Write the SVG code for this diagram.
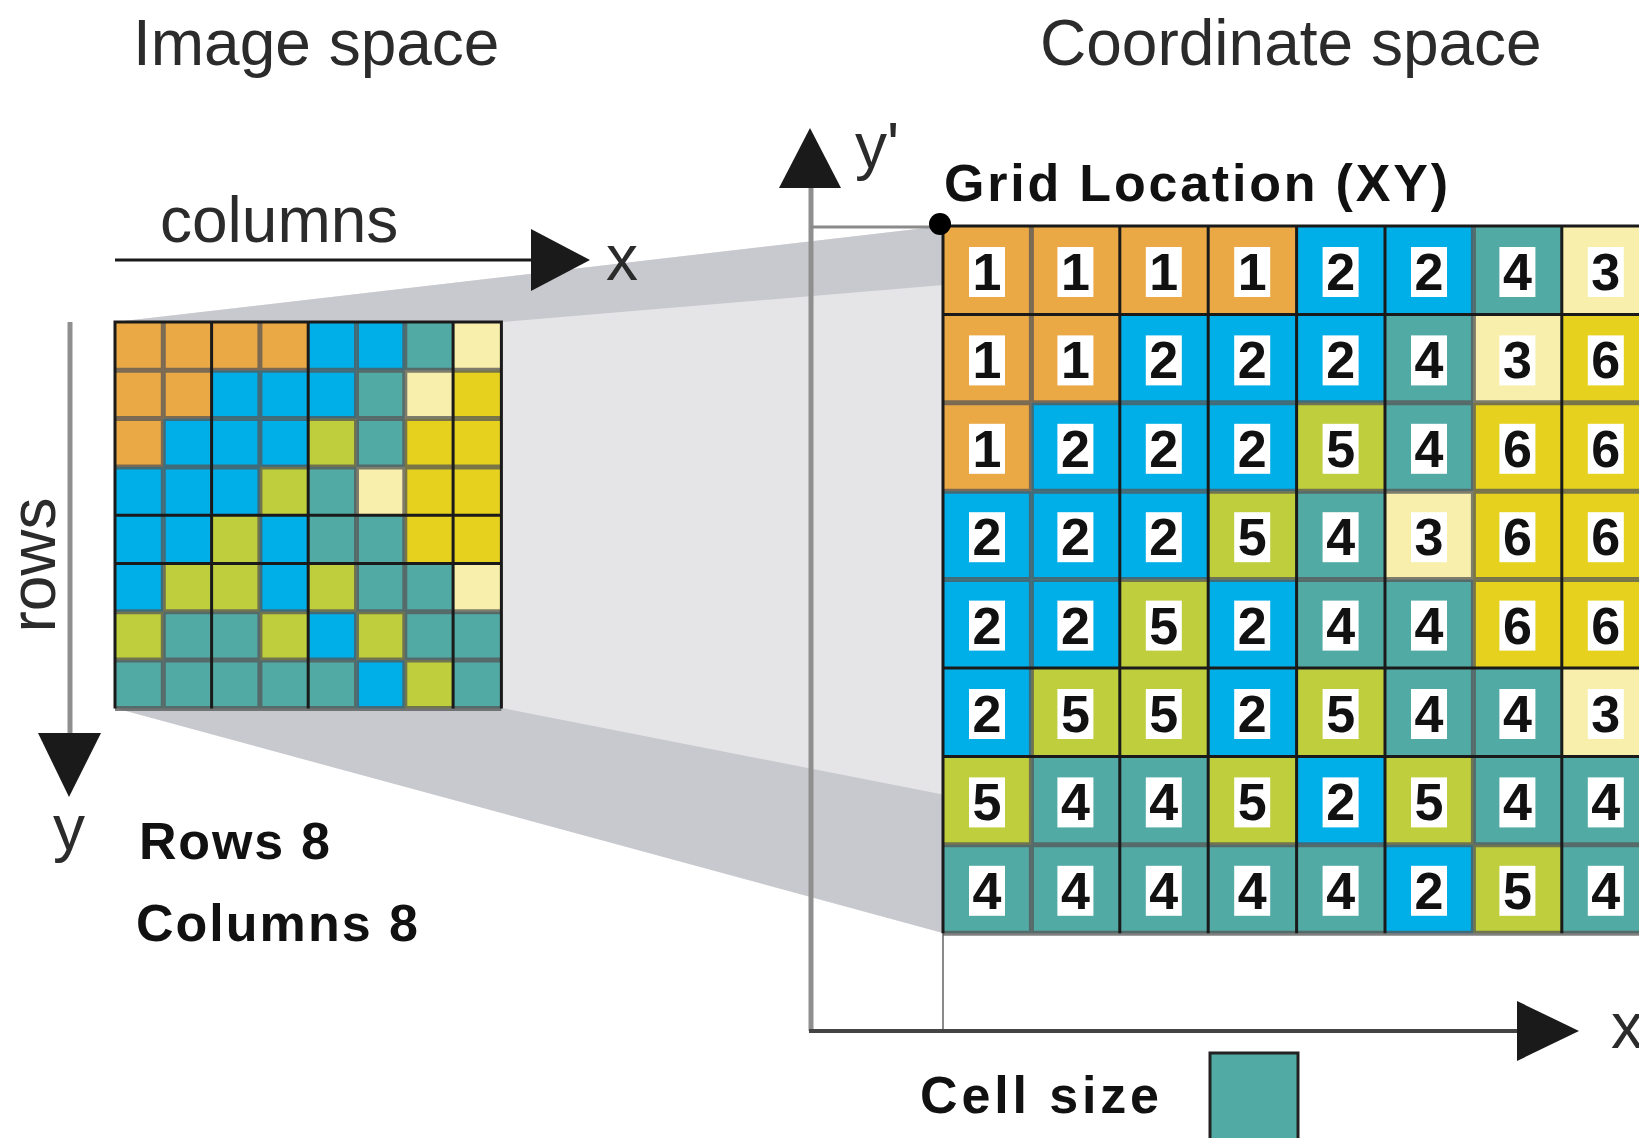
<svg xmlns="http://www.w3.org/2000/svg" width="1639" height="1138" viewBox="0 0 1639 1138">
<style>
.c1{fill:#EAA945}.c2{fill:#00AEE8}.c3{fill:#F7EFAB}.c4{fill:#52AAA5}.c5{fill:#BECE3C}.c6{fill:#E6D21E}
.bx{fill:#FFFFFF}
.dg{font-family:"Liberation Sans",Arial,sans-serif;font-weight:bold;font-size:52px;fill:#111;text-anchor:middle}
.title{font-family:"Liberation Sans",Arial,sans-serif;font-size:64px;fill:#2b2b2b}
.bold{font-family:"Liberation Sans",Arial,sans-serif;font-weight:bold;font-size:52px;fill:#111}
.gl{stroke:#1a1a1a;stroke-width:3;fill:none}
.gg{stroke:#555;stroke-opacity:0.75;stroke-width:5;fill:none}
.ax{fill:#1a1a1a}
</style>

<g id="projection">
<polygon points="115,322 943,226 943,933 115,708" fill="#E5E5E7"/>
<polygon points="115,322 502,322 1649,226 943,226" fill="#C8C9CE"/>
<polygon points="115,708 502,708 1649,933 943,933" fill="#C8C9CE"/>
</g>

<g id="image-grid">
<g transform="translate(0,322)">
<rect class="c1" x="115" y="0" width="48.4" height="48.4"/><rect class="c1" x="163.3" y="0" width="48.4" height="48.4"/><rect class="c1" x="211.6" y="0" width="48.4" height="48.4"/><rect class="c1" x="259.9" y="0" width="48.4" height="48.4"/><rect class="c2" x="308.2" y="0" width="48.4" height="48.4"/><rect class="c2" x="356.5" y="0" width="48.4" height="48.4"/><rect class="c4" x="404.8" y="0" width="48.4" height="48.4"/><rect class="c3" x="453.1" y="0" width="48.4" height="48.4"/>
</g>
<g transform="translate(0,370.3)">
<rect class="c1" x="115" y="0" width="48.4" height="48.4"/><rect class="c1" x="163.3" y="0" width="48.4" height="48.4"/><rect class="c2" x="211.6" y="0" width="48.4" height="48.4"/><rect class="c2" x="259.9" y="0" width="48.4" height="48.4"/><rect class="c2" x="308.2" y="0" width="48.4" height="48.4"/><rect class="c4" x="356.5" y="0" width="48.4" height="48.4"/><rect class="c3" x="404.8" y="0" width="48.4" height="48.4"/><rect class="c6" x="453.1" y="0" width="48.4" height="48.4"/>
</g>
<g transform="translate(0,418.6)">
<rect class="c1" x="115" y="0" width="48.4" height="48.4"/><rect class="c2" x="163.3" y="0" width="48.4" height="48.4"/><rect class="c2" x="211.6" y="0" width="48.4" height="48.4"/><rect class="c2" x="259.9" y="0" width="48.4" height="48.4"/><rect class="c5" x="308.2" y="0" width="48.4" height="48.4"/><rect class="c4" x="356.5" y="0" width="48.4" height="48.4"/><rect class="c6" x="404.8" y="0" width="48.4" height="48.4"/><rect class="c6" x="453.1" y="0" width="48.4" height="48.4"/>
</g>
<g transform="translate(0,466.9)">
<rect class="c2" x="115" y="0" width="48.4" height="48.4"/><rect class="c2" x="163.3" y="0" width="48.4" height="48.4"/><rect class="c2" x="211.6" y="0" width="48.4" height="48.4"/><rect class="c5" x="259.9" y="0" width="48.4" height="48.4"/><rect class="c4" x="308.2" y="0" width="48.4" height="48.4"/><rect class="c3" x="356.5" y="0" width="48.4" height="48.4"/><rect class="c6" x="404.8" y="0" width="48.4" height="48.4"/><rect class="c6" x="453.1" y="0" width="48.4" height="48.4"/>
</g>
<g transform="translate(0,515.2)">
<rect class="c2" x="115" y="0" width="48.4" height="48.4"/><rect class="c2" x="163.3" y="0" width="48.4" height="48.4"/><rect class="c5" x="211.6" y="0" width="48.4" height="48.4"/><rect class="c2" x="259.9" y="0" width="48.4" height="48.4"/><rect class="c4" x="308.2" y="0" width="48.4" height="48.4"/><rect class="c4" x="356.5" y="0" width="48.4" height="48.4"/><rect class="c6" x="404.8" y="0" width="48.4" height="48.4"/><rect class="c6" x="453.1" y="0" width="48.4" height="48.4"/>
</g>
<g transform="translate(0,563.5)">
<rect class="c2" x="115" y="0" width="48.4" height="48.4"/><rect class="c5" x="163.3" y="0" width="48.4" height="48.4"/><rect class="c5" x="211.6" y="0" width="48.4" height="48.4"/><rect class="c2" x="259.9" y="0" width="48.4" height="48.4"/><rect class="c5" x="308.2" y="0" width="48.4" height="48.4"/><rect class="c4" x="356.5" y="0" width="48.4" height="48.4"/><rect class="c4" x="404.8" y="0" width="48.4" height="48.4"/><rect class="c3" x="453.1" y="0" width="48.4" height="48.4"/>
</g>
<g transform="translate(0,611.8)">
<rect class="c5" x="115" y="0" width="48.4" height="48.4"/><rect class="c4" x="163.3" y="0" width="48.4" height="48.4"/><rect class="c4" x="211.6" y="0" width="48.4" height="48.4"/><rect class="c5" x="259.9" y="0" width="48.4" height="48.4"/><rect class="c2" x="308.2" y="0" width="48.4" height="48.4"/><rect class="c5" x="356.5" y="0" width="48.4" height="48.4"/><rect class="c4" x="404.8" y="0" width="48.4" height="48.4"/><rect class="c4" x="453.1" y="0" width="48.4" height="48.4"/>
</g>
<g transform="translate(0,660.1)">
<rect class="c4" x="115" y="0" width="48.4" height="48.3"/><rect class="c4" x="163.3" y="0" width="48.4" height="48.3"/><rect class="c4" x="211.6" y="0" width="48.4" height="48.3"/><rect class="c4" x="259.9" y="0" width="48.4" height="48.3"/><rect class="c4" x="308.2" y="0" width="48.4" height="48.3"/><rect class="c2" x="356.5" y="0" width="48.4" height="48.3"/><rect class="c5" x="404.8" y="0" width="48.4" height="48.3"/><rect class="c4" x="453.1" y="0" width="48.3" height="48.3"/>
</g>
<path class="gg" d="M163.3,322V708.4M259.9,322V708.4M356.5,322V708.4M404.8,322V708.4M115,370.3H501.4M115,418.6H501.4M115,466.9H501.4M115,611.8H501.4M115,660.1H501.4M115,708.4H501.4"/>
<path class="gl" d="M211.6,322V708.4M308.2,322V708.4M453.1,322V708.4M115,515.2H501.4M115,563.5H501.4M115,708.4V322H501.4V708.4"/>
</g>

<g id="connectors">
<line x1="811" y1="188" x2="811" y2="1031" stroke="#8f8f8f" stroke-width="5"/>
<line x1="811" y1="227" x2="940" y2="227" stroke="#8a8a8a" stroke-width="3"/>
<line x1="943" y1="933" x2="943" y2="1031" stroke="#8a8a8a" stroke-width="2"/>
<line x1="70" y1="322" x2="70" y2="740" stroke="#8f8f8f" stroke-width="5"/>
<polygon class="ax" points="38,733 101,733 69,797"/>
<line x1="115" y1="260" x2="533" y2="260" stroke="#1a1a1a" stroke-width="3"/>
<polygon class="ax" points="531,229 531,291 590,260"/>
<polygon class="ax" points="779,188 841,188 810,128"/>
<line x1="809" y1="1031" x2="1520" y2="1031" stroke="#444" stroke-width="4"/>
<polygon class="ax" points="1517,1001 1517,1061 1579,1031"/>
</g>

<g id="coord-grid">
<g transform="translate(0,226)">
<rect class="c1" x="943" y="0" width="88.5" height="88.5"/><rect class="c1" x="1031.4" y="0" width="88.5" height="88.5"/><rect class="c1" x="1119.8" y="0" width="88.5" height="88.5"/><rect class="c1" x="1208.2" y="0" width="88.5" height="88.5"/><rect class="c2" x="1296.6" y="0" width="88.5" height="88.5"/><rect class="c2" x="1385" y="0" width="88.5" height="88.5"/><rect class="c4" x="1473.4" y="0" width="88.5" height="88.5"/><rect class="c3" x="1561.8" y="0" width="88.5" height="88.5"/>
<rect class="bx" x="969" y="21" width="36" height="50"/><rect class="bx" x="1057.4" y="21" width="36" height="50"/><rect class="bx" x="1145.8" y="21" width="36" height="50"/><rect class="bx" x="1234.2" y="21" width="36" height="50"/><rect class="bx" x="1322.6" y="21" width="36" height="50"/><rect class="bx" x="1411" y="21" width="36" height="50"/><rect class="bx" x="1499.4" y="21" width="36" height="50"/><rect class="bx" x="1587.8" y="21" width="36" height="50"/>
<text class="dg" x="987" y="64">1</text><text class="dg" x="1075.4" y="64">1</text><text class="dg" x="1163.8" y="64">1</text><text class="dg" x="1252.2" y="64">1</text><text class="dg" x="1340.6" y="64">2</text><text class="dg" x="1429" y="64">2</text><text class="dg" x="1517.4" y="64">4</text><text class="dg" x="1605.8" y="64">3</text>
</g>
<g transform="translate(0,314.4)">
<rect class="c1" x="943" y="0" width="88.5" height="88.5"/><rect class="c1" x="1031.4" y="0" width="88.5" height="88.5"/><rect class="c2" x="1119.8" y="0" width="88.5" height="88.5"/><rect class="c2" x="1208.2" y="0" width="88.5" height="88.5"/><rect class="c2" x="1296.6" y="0" width="88.5" height="88.5"/><rect class="c4" x="1385" y="0" width="88.5" height="88.5"/><rect class="c3" x="1473.4" y="0" width="88.5" height="88.5"/><rect class="c6" x="1561.8" y="0" width="88.5" height="88.5"/>
<rect class="bx" x="969" y="21" width="36" height="50"/><rect class="bx" x="1057.4" y="21" width="36" height="50"/><rect class="bx" x="1145.8" y="21" width="36" height="50"/><rect class="bx" x="1234.2" y="21" width="36" height="50"/><rect class="bx" x="1322.6" y="21" width="36" height="50"/><rect class="bx" x="1411" y="21" width="36" height="50"/><rect class="bx" x="1499.4" y="21" width="36" height="50"/><rect class="bx" x="1587.8" y="21" width="36" height="50"/>
<text class="dg" x="987" y="64">1</text><text class="dg" x="1075.4" y="64">1</text><text class="dg" x="1163.8" y="64">2</text><text class="dg" x="1252.2" y="64">2</text><text class="dg" x="1340.6" y="64">2</text><text class="dg" x="1429" y="64">4</text><text class="dg" x="1517.4" y="64">3</text><text class="dg" x="1605.8" y="64">6</text>
</g>
<g transform="translate(0,402.8)">
<rect class="c1" x="943" y="0" width="88.5" height="88.5"/><rect class="c2" x="1031.4" y="0" width="88.5" height="88.5"/><rect class="c2" x="1119.8" y="0" width="88.5" height="88.5"/><rect class="c2" x="1208.2" y="0" width="88.5" height="88.5"/><rect class="c5" x="1296.6" y="0" width="88.5" height="88.5"/><rect class="c4" x="1385" y="0" width="88.5" height="88.5"/><rect class="c6" x="1473.4" y="0" width="88.5" height="88.5"/><rect class="c6" x="1561.8" y="0" width="88.5" height="88.5"/>
<rect class="bx" x="969" y="21" width="36" height="50"/><rect class="bx" x="1057.4" y="21" width="36" height="50"/><rect class="bx" x="1145.8" y="21" width="36" height="50"/><rect class="bx" x="1234.2" y="21" width="36" height="50"/><rect class="bx" x="1322.6" y="21" width="36" height="50"/><rect class="bx" x="1411" y="21" width="36" height="50"/><rect class="bx" x="1499.4" y="21" width="36" height="50"/><rect class="bx" x="1587.8" y="21" width="36" height="50"/>
<text class="dg" x="987" y="64">1</text><text class="dg" x="1075.4" y="64">2</text><text class="dg" x="1163.8" y="64">2</text><text class="dg" x="1252.2" y="64">2</text><text class="dg" x="1340.6" y="64">5</text><text class="dg" x="1429" y="64">4</text><text class="dg" x="1517.4" y="64">6</text><text class="dg" x="1605.8" y="64">6</text>
</g>
<g transform="translate(0,491.2)">
<rect class="c2" x="943" y="0" width="88.5" height="88.5"/><rect class="c2" x="1031.4" y="0" width="88.5" height="88.5"/><rect class="c2" x="1119.8" y="0" width="88.5" height="88.5"/><rect class="c5" x="1208.2" y="0" width="88.5" height="88.5"/><rect class="c4" x="1296.6" y="0" width="88.5" height="88.5"/><rect class="c3" x="1385" y="0" width="88.5" height="88.5"/><rect class="c6" x="1473.4" y="0" width="88.5" height="88.5"/><rect class="c6" x="1561.8" y="0" width="88.5" height="88.5"/>
<rect class="bx" x="969" y="21" width="36" height="50"/><rect class="bx" x="1057.4" y="21" width="36" height="50"/><rect class="bx" x="1145.8" y="21" width="36" height="50"/><rect class="bx" x="1234.2" y="21" width="36" height="50"/><rect class="bx" x="1322.6" y="21" width="36" height="50"/><rect class="bx" x="1411" y="21" width="36" height="50"/><rect class="bx" x="1499.4" y="21" width="36" height="50"/><rect class="bx" x="1587.8" y="21" width="36" height="50"/>
<text class="dg" x="987" y="64">2</text><text class="dg" x="1075.4" y="64">2</text><text class="dg" x="1163.8" y="64">2</text><text class="dg" x="1252.2" y="64">5</text><text class="dg" x="1340.6" y="64">4</text><text class="dg" x="1429" y="64">3</text><text class="dg" x="1517.4" y="64">6</text><text class="dg" x="1605.8" y="64">6</text>
</g>
<g transform="translate(0,579.6)">
<rect class="c2" x="943" y="0" width="88.5" height="88.5"/><rect class="c2" x="1031.4" y="0" width="88.5" height="88.5"/><rect class="c5" x="1119.8" y="0" width="88.5" height="88.5"/><rect class="c2" x="1208.2" y="0" width="88.5" height="88.5"/><rect class="c4" x="1296.6" y="0" width="88.5" height="88.5"/><rect class="c4" x="1385" y="0" width="88.5" height="88.5"/><rect class="c6" x="1473.4" y="0" width="88.5" height="88.5"/><rect class="c6" x="1561.8" y="0" width="88.5" height="88.5"/>
<rect class="bx" x="969" y="21" width="36" height="50"/><rect class="bx" x="1057.4" y="21" width="36" height="50"/><rect class="bx" x="1145.8" y="21" width="36" height="50"/><rect class="bx" x="1234.2" y="21" width="36" height="50"/><rect class="bx" x="1322.6" y="21" width="36" height="50"/><rect class="bx" x="1411" y="21" width="36" height="50"/><rect class="bx" x="1499.4" y="21" width="36" height="50"/><rect class="bx" x="1587.8" y="21" width="36" height="50"/>
<text class="dg" x="987" y="64">2</text><text class="dg" x="1075.4" y="64">2</text><text class="dg" x="1163.8" y="64">5</text><text class="dg" x="1252.2" y="64">2</text><text class="dg" x="1340.6" y="64">4</text><text class="dg" x="1429" y="64">4</text><text class="dg" x="1517.4" y="64">6</text><text class="dg" x="1605.8" y="64">6</text>
</g>
<g transform="translate(0,668)">
<rect class="c2" x="943" y="0" width="88.5" height="88.5"/><rect class="c5" x="1031.4" y="0" width="88.5" height="88.5"/><rect class="c5" x="1119.8" y="0" width="88.5" height="88.5"/><rect class="c2" x="1208.2" y="0" width="88.5" height="88.5"/><rect class="c5" x="1296.6" y="0" width="88.5" height="88.5"/><rect class="c4" x="1385" y="0" width="88.5" height="88.5"/><rect class="c4" x="1473.4" y="0" width="88.5" height="88.5"/><rect class="c3" x="1561.8" y="0" width="88.5" height="88.5"/>
<rect class="bx" x="969" y="21" width="36" height="50"/><rect class="bx" x="1057.4" y="21" width="36" height="50"/><rect class="bx" x="1145.8" y="21" width="36" height="50"/><rect class="bx" x="1234.2" y="21" width="36" height="50"/><rect class="bx" x="1322.6" y="21" width="36" height="50"/><rect class="bx" x="1411" y="21" width="36" height="50"/><rect class="bx" x="1499.4" y="21" width="36" height="50"/><rect class="bx" x="1587.8" y="21" width="36" height="50"/>
<text class="dg" x="987" y="64">2</text><text class="dg" x="1075.4" y="64">5</text><text class="dg" x="1163.8" y="64">5</text><text class="dg" x="1252.2" y="64">2</text><text class="dg" x="1340.6" y="64">5</text><text class="dg" x="1429" y="64">4</text><text class="dg" x="1517.4" y="64">4</text><text class="dg" x="1605.8" y="64">3</text>
</g>
<g transform="translate(0,756.4)">
<rect class="c5" x="943" y="0" width="88.5" height="88.5"/><rect class="c4" x="1031.4" y="0" width="88.5" height="88.5"/><rect class="c4" x="1119.8" y="0" width="88.5" height="88.5"/><rect class="c5" x="1208.2" y="0" width="88.5" height="88.5"/><rect class="c2" x="1296.6" y="0" width="88.5" height="88.5"/><rect class="c5" x="1385" y="0" width="88.5" height="88.5"/><rect class="c4" x="1473.4" y="0" width="88.5" height="88.5"/><rect class="c4" x="1561.8" y="0" width="88.5" height="88.5"/>
<rect class="bx" x="969" y="21" width="36" height="50"/><rect class="bx" x="1057.4" y="21" width="36" height="50"/><rect class="bx" x="1145.8" y="21" width="36" height="50"/><rect class="bx" x="1234.2" y="21" width="36" height="50"/><rect class="bx" x="1322.6" y="21" width="36" height="50"/><rect class="bx" x="1411" y="21" width="36" height="50"/><rect class="bx" x="1499.4" y="21" width="36" height="50"/><rect class="bx" x="1587.8" y="21" width="36" height="50"/>
<text class="dg" x="987" y="64">5</text><text class="dg" x="1075.4" y="64">4</text><text class="dg" x="1163.8" y="64">4</text><text class="dg" x="1252.2" y="64">5</text><text class="dg" x="1340.6" y="64">2</text><text class="dg" x="1429" y="64">5</text><text class="dg" x="1517.4" y="64">4</text><text class="dg" x="1605.8" y="64">4</text>
</g>
<g transform="translate(0,844.8)">
<rect class="c4" x="943" y="0" width="88.5" height="88.5"/><rect class="c4" x="1031.4" y="0" width="88.5" height="88.5"/><rect class="c4" x="1119.8" y="0" width="88.5" height="88.5"/><rect class="c4" x="1208.2" y="0" width="88.5" height="88.5"/><rect class="c4" x="1296.6" y="0" width="88.5" height="88.5"/><rect class="c2" x="1385" y="0" width="88.5" height="88.5"/><rect class="c5" x="1473.4" y="0" width="88.5" height="88.5"/><rect class="c4" x="1561.8" y="0" width="88.5" height="88.5"/>
<rect class="bx" x="969" y="21" width="36" height="50"/><rect class="bx" x="1057.4" y="21" width="36" height="50"/><rect class="bx" x="1145.8" y="21" width="36" height="50"/><rect class="bx" x="1234.2" y="21" width="36" height="50"/><rect class="bx" x="1322.6" y="21" width="36" height="50"/><rect class="bx" x="1411" y="21" width="36" height="50"/><rect class="bx" x="1499.4" y="21" width="36" height="50"/><rect class="bx" x="1587.8" y="21" width="36" height="50"/>
<text class="dg" x="987" y="64">4</text><text class="dg" x="1075.4" y="64">4</text><text class="dg" x="1163.8" y="64">4</text><text class="dg" x="1252.2" y="64">4</text><text class="dg" x="1340.6" y="64">4</text><text class="dg" x="1429" y="64">2</text><text class="dg" x="1517.4" y="64">5</text><text class="dg" x="1605.8" y="64">4</text>
</g>
<path class="gg" d="M1031.4,226V933.2M1473.4,226V933.2M943,402.8H1650M943,491.2H1650M943,579.6H1650M943,844.8H1650M943,933.2H1650"/>
<path class="gl" d="M1119.8,226V933.2M1208.2,226V933.2M1296.6,226V933.2M1385,226V933.2M1561.8,226V933.2M943,314.4H1650M943,668H1650M943,756.4H1650M1650,226H943V933.2"/>
</g>

<g id="grid-origin">
<circle cx="940" cy="224" r="11" fill="#000"/>
</g>

<g id="labels">
<text id="image-space" class="title" x="133" y="65">Image space</text>
<text id="coordinate-space" class="title" x="1040" y="65">Coordinate space</text>
<text id="columns" class="title" x="160" y="242">columns</text>
<text id="x-left" class="title" x="606" y="280">x</text>
<text id="rows" class="title" transform="translate(55,565) rotate(-90)" text-anchor="middle">rows</text>
<text id="y-left" class="title" x="53" y="850">y</text>
<text id="y-prime" class="title" x="855" y="168" font-size="62">y'</text>
<text id="x-right" class="title" x="1611" y="1048">x</text>
<text id="grid-location" class="bold" x="944" y="201" textLength="504" lengthAdjust="spacing">Grid Location (XY)</text>
<text id="rows-8" class="bold" x="139" y="859" textLength="191" lengthAdjust="spacing">Rows 8</text>
<text id="columns-8" class="bold" x="136" y="941" textLength="282" lengthAdjust="spacing">Columns 8</text>
<text id="cell-size" class="bold" x="920" y="1113" textLength="239" lengthAdjust="spacing">Cell size</text>
</g>

<g id="cell-size-swatch">
<rect x="1210" y="1053" width="88" height="90" fill="#52AAA5" stroke="#222" stroke-width="3"/>
</g>
</svg>
